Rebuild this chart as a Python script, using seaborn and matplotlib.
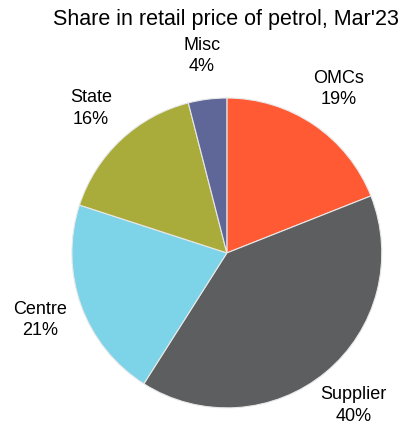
import matplotlib.pyplot as plt
import seaborn as sns

# Data
labels = ['OMCs', 'Supplier', 'Centre', 'State', 'Misc']
shares = [19, 40, 21, 16, 4]
colors = ['#FF5A33', '#5D5E60', '#7DD3E7', '#A9AC3B', '#5E6797']

sns.set_theme(style="white")
plt.rcParams['font.family'] = ['Liberation Sans', 'DejaVu Sans']

fig = plt.figure(figsize=(4.04, 4.28), dpi=100)
ax = fig.add_axes([0.178, 0.047, 0.767, 0.724])

wedges, texts = ax.pie(
    shares,
    labels=[f'{l}\n{v}%' for l, v in zip(labels, shares)],
    colors=sns.color_palette(colors),
    startangle=90,
    counterclock=False,
    labeldistance=1.28,
    wedgeprops={'edgecolor': '#E8E8E8', 'linewidth': 0.8},
    textprops={'fontsize': 13, 'color': 'black'},
)
for t in texts:
    t.set_ha('center')
    t.set_va('center')
    t.set_linespacing(1.35)
    t.set_clip_on(False)

ax.set_xlim(-1, 1)
ax.set_ylim(-1, 1)
ax.set_aspect('equal')

fig.suptitle("Share in retail price of petrol, Mar'23", x=0.56, y=0.98,
             fontsize=15.5, color='black')

fig.savefig('out.png', dpi=100)
